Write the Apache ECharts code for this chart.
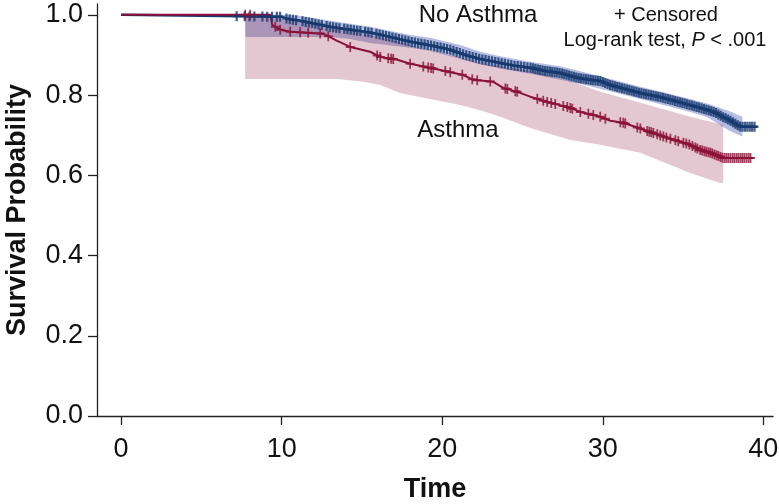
<!DOCTYPE html>
<html>
<head>
<meta charset="utf-8">
<script src="https://cdn.jsdelivr.net/npm/echarts@6/dist/echarts.min.js"></script>
<style>
html,body{margin:0;padding:0;background:#fff;}
#chart{width:779px;height:504px;}
</style>
</head>
<body>
<div id="chart"></div>
<script>
// ---- Data ----
const xTicks = [0, 10, 20, 30, 40];
const yTicks = [0, 0.2, 0.4, 0.6, 0.8, 1.0];

// No Asthma Kaplan-Meier estimate
const timeNo = [0, 10.03, 10.34, 11.15, 12.09, 13.02, 14.27, 15.51, 16.76, 18.0, 19.25, 20.5, 21.43, 22.37, 23.61, 24.55, 25.48, 26.42, 27.35, 28.41, 29.22, 29.84, 30.47, 31.4, 32.34, 33.58, 34.52, 35.45, 36.07, 36.51, 37.01, 37.45, 37.94, 38.57, 39.63];
const survNo = [1.0, 0.995, 0.990, 0.985, 0.978, 0.970, 0.963, 0.956, 0.945, 0.933, 0.924, 0.913, 0.900, 0.890, 0.880, 0.873, 0.868, 0.860, 0.855, 0.843, 0.838, 0.835, 0.825, 0.815, 0.805, 0.795, 0.785, 0.775, 0.768, 0.763, 0.756, 0.746, 0.736, 0.721, 0.721];
// No Asthma confidence band
const bandTimeNo = [7.73, 10.03, 11.15, 13.02, 14.27, 15.51, 18.0, 19.25, 21.12, 22.37, 23.61, 25.48, 27.35, 29.22, 32.34, 35.45, 36.51, 37.94, 38.69];
const lowerNo = [0.945, 0.945, 0.945, 0.945, 0.940, 0.930, 0.918, 0.910, 0.890, 0.876, 0.866, 0.853, 0.838, 0.822, 0.790, 0.758, 0.745, 0.710, 0.697];
const upperNo = [1.0, 1.0, 0.998, 0.985, 0.978, 0.970, 0.950, 0.943, 0.925, 0.908, 0.897, 0.883, 0.872, 0.853, 0.821, 0.790, 0.779, 0.759, 0.746];
// No Asthma censoring times
const censorNo = [7.2, 7.7, 8.0, 8.3, 8.8, 9.1, 9.4, 9.7, 9.9, 10.3, 10.5, 10.7, 10.9, 11.3, 11.5, 11.7, 11.9, 12.1, 12.3, 12.5, 12.8, 13.0, 13.2, 13.4, 13.6, 13.9, 14.1, 14.3, 14.5, 14.7, 14.9, 15.2, 15.4, 15.6, 15.9, 16.1, 16.3, 16.5, 16.7, 16.9, 17.1, 17.3, 17.5, 17.7, 17.9, 18.1, 18.3, 18.5, 18.7, 18.9, 19.1, 19.3, 19.5, 19.7, 19.9, 20.1, 20.3, 20.5, 20.7, 20.9, 21.1, 21.3, 21.5, 21.7, 21.9, 22.1, 22.3, 22.5, 22.7, 22.9, 23.1, 23.3, 23.5, 23.7, 23.9, 24.1, 24.3, 24.5, 24.7, 24.9, 25.1, 25.3, 25.5, 25.65, 25.8, 25.95, 26.1, 26.25, 26.4, 26.55, 26.7, 26.85, 27.0, 27.15, 27.3, 27.45, 27.6, 27.75, 27.9, 28.05, 28.2, 28.35, 28.5, 28.65, 28.8, 28.95, 29.1, 29.25, 29.4, 29.55, 29.7, 29.85, 30.0, 30.15, 30.3, 30.45, 30.6, 30.75, 30.9, 31.05, 31.2, 31.35, 31.5, 31.65, 31.8, 31.95, 32.1, 32.25, 32.4, 32.55, 32.7, 32.85, 33.0, 33.15, 33.3, 33.45, 33.6, 33.75, 33.9, 34.05, 34.2, 34.35, 34.5, 34.65, 34.8, 34.95, 35.1, 35.25, 35.4, 35.55, 35.7, 35.85, 36.0, 36.15, 36.3, 36.45, 36.6, 36.75, 36.9, 37.05, 37.2, 37.35, 37.5, 37.65, 37.8, 37.95, 38.1, 38.25, 38.4, 38.55, 38.7, 38.85, 39.0, 39.15, 39.3, 39.45];

// Asthma Kaplan-Meier estimate
const timeAs = [0, 9.3, 9.41, 9.91, 10.53, 12.59, 13.46, 14.27, 15.51, 16.14, 17.2, 18.0, 19.25, 21.31, 21.93, 23.18, 23.8, 24.67, 25.48, 26.54, 27.98, 28.6, 29.84, 30.47, 31.28, 32.96, 34.2, 35.45, 36.07, 36.7, 37.5, 39.38];
const survAs = [1.0, 1.0, 0.975, 0.963, 0.958, 0.953, 0.935, 0.920, 0.908, 0.895, 0.888, 0.878, 0.868, 0.850, 0.838, 0.833, 0.818, 0.808, 0.796, 0.783, 0.768, 0.758, 0.746, 0.736, 0.731, 0.708, 0.691, 0.676, 0.663, 0.656, 0.643, 0.643];
// Asthma confidence band
const bandTimeAs = [7.73, 9.41, 10.53, 12.59, 13.46, 15.1, 16.14, 17.38, 18.6, 21.12, 22.37, 23.61, 25.48, 27.98, 29.84, 32.34, 35.45, 37.3, 37.5];
const upperAs = [1.0, 0.995, 0.985, 0.98, 0.97, 0.955, 0.945, 0.932, 0.918, 0.893, 0.880, 0.872, 0.860, 0.835, 0.808, 0.781, 0.746, 0.728, 0.726];
const lowerAs = [0.840, 0.840, 0.840, 0.840, 0.840, 0.833, 0.825, 0.805, 0.795, 0.775, 0.762, 0.746, 0.718, 0.688, 0.676, 0.656, 0.606, 0.581, 0.581];
// Asthma censoring times
const censorAs = [7.73, 8.04, 9.6, 9.91, 10.53, 11.15, 11.65, 12.4, 12.9, 14.27, 15.95, 16.14, 16.64, 16.82, 16.95, 18.0, 18.82, 19.13, 19.31, 19.44, 20.19, 20.5, 21.25, 21.87, 22.18, 22.99, 23.93, 24.05, 24.55, 24.67, 25.92, 26.29, 26.54, 26.79, 27.04, 27.54, 27.79, 27.98, 28.1, 28.6, 29.1, 29.41, 29.84, 30.16, 31.09, 31.28, 31.4, 32.15, 32.34, 32.77, 32.9, 33.02, 33.15, 33.39, 33.58, 33.77, 33.96, 34.21, 34.52, 34.7, 35.02, 35.2, 35.39, 35.58, 35.76, 35.89, 36.07, 36.2, 36.33, 36.45, 36.58, 36.7, 36.82, 36.95, 37.08, 37.2, 37.33, 37.45, 37.58, 37.7, 37.82, 37.95, 38.08, 38.2, 38.33, 38.45, 38.58, 38.7, 38.82, 38.95, 39.08, 39.2];

// ---- Helpers ----
function lineAt(times, surv, t) {
  if (t <= times[0]) return surv[0];
  for (let i = 1; i < times.length; i++) {
    if (t <= times[i]) {
      const f = (t - times[i - 1]) / (times[i] - times[i - 1]);
      return surv[i - 1] + f * (surv[i] - surv[i - 1]);
    }
  }
  return surv[surv.length - 1];
}
function bandSeries(times, lower, upper, fill, z) {
  return {
    type: 'custom', z: z, silent: true,
    data: [[times[0], lower[0]]],
    renderItem: function (params, api) {
      const pts = [];
      for (let i = 0; i < times.length; i++) pts.push(api.coord([times[i], upper[i]]));
      for (let i = times.length - 1; i >= 0; i--) pts.push(api.coord([times[i], lower[i]]));
      return { type: 'polygon', shape: { points: pts }, style: { fill: fill } };
    }
  };
}
const NAVY = '#163a6e';
const CRIMSON = '#8a1238';
const FONT = '"Liberation Sans", Arial, Helvetica, sans-serif';
const PLUS = 'path://M-1,-5H1V-1H5V1H1V5H-1V1H-5V-1H-1Z';
const PLUS_BOLD = 'path://M-1.4,-5H1.4V-1H5V1H1.4V5H-1.4V1H-5V-1H-1.4Z';

const chart = echarts.init(document.getElementById('chart'), null, { renderer: 'canvas' });
chart.setOption({
  animation: false,
  backgroundColor: '#fff',
  textStyle: { fontFamily: FONT },
  grid: { left: 97, right: 6, top: 4, bottom: 88, containLabel: false, outerBoundsMode: 'none' },
  xAxis: {
    type: 'value', min: -1.5, max: 40.6,
    name: 'Time', nameLocation: 'middle', nameGap: 60,
    nameTextStyle: { fontFamily: FONT, fontWeight: 'bold', fontSize: 27, color: '#111' },
    axisLine: { show: true, onZero: false, lineStyle: { color: '#222', width: 1.3 } },
    axisTick: { show: true, length: 9, customValues: xTicks, lineStyle: { color: '#222', width: 1.3 } },
    axisLabel: { customValues: xTicks, fontSize: 27, margin: 20, color: '#111', fontFamily: FONT },
    splitLine: { show: false }
  },
  yAxis: {
    type: 'value', min: 0, max: 1.027,
    name: 'Survival Probability', nameLocation: 'middle', nameGap: 66, nameRotate: 90,
    nameTextStyle: { fontFamily: FONT, fontWeight: 'bold', fontSize: 27, color: '#111' },
    axisLine: { show: true, onZero: false, lineStyle: { color: '#222', width: 1.3 } },
    axisTick: { show: true, length: 9, customValues: yTicks, lineStyle: { color: '#222', width: 1.3 } },
    axisLabel: { customValues: yTicks, fontSize: 27, margin: 14, color: '#111', fontFamily: FONT,
      formatter: function (v) { return v.toFixed(1); } },
    splitLine: { show: false }
  },
  series: [
    bandSeries(bandTimeNo, lowerNo, upperNo, 'rgba(60,85,180,0.38)', 1),
    bandSeries(bandTimeAs, lowerAs, upperAs, 'rgba(139,16,56,0.23)', 2),
    {
      type: 'line', name: 'No Asthma', z: 3, symbol: 'none',
      lineStyle: { color: NAVY, width: 2.5 },
      data: timeNo.map((t, i) => [t, survNo[i]])
    },
    {
      type: 'line', name: 'Asthma', z: 4, symbol: 'none',
      lineStyle: { color: CRIMSON, width: 2 },
      data: timeAs.map((t, i) => [t, survAs[i]])
    },
    {
      type: 'scatter', name: 'No Asthma censored', z: 5, symbol: PLUS_BOLD, symbolSize: [8, 10],
      itemStyle: { color: NAVY },
      data: censorNo.map(t => [t, lineAt(timeNo, survNo, t)])
    },
    {
      type: 'scatter', name: 'Asthma censored', z: 6, symbol: PLUS, symbolSize: [9, 10],
      itemStyle: { color: CRIMSON },
      data: censorAs.map(t => [t, lineAt(timeAs, survAs, t)])
    }
  ],
  graphic: [
    { type: 'text', x: 478, y: 15, style: { text: 'No Asthma', font: '24px ' + FONT, fill: '#111', align: 'center', verticalAlign: 'middle' } },
    { type: 'text', x: 458, y: 130, style: { text: 'Asthma', font: '24px ' + FONT, fill: '#111', align: 'center', verticalAlign: 'middle' } },
    { type: 'text', x: 666, y: 15, style: { text: '+ Censored', font: '20px ' + FONT, fill: '#111', align: 'center', verticalAlign: 'middle' } },
    { type: 'text', x: 665, y: 40, style: {
        text: '{n|Log-rank test, }{i|P}{n| < .001}',
        align: 'center', verticalAlign: 'middle',
        rich: {
          n: { fontFamily: FONT, fontSize: 20, fill: '#111' },
          i: { fontFamily: FONT, fontSize: 20, fontStyle: 'italic', fill: '#111' }
        }
    } }
  ]
});
</script>
</body>
</html>
